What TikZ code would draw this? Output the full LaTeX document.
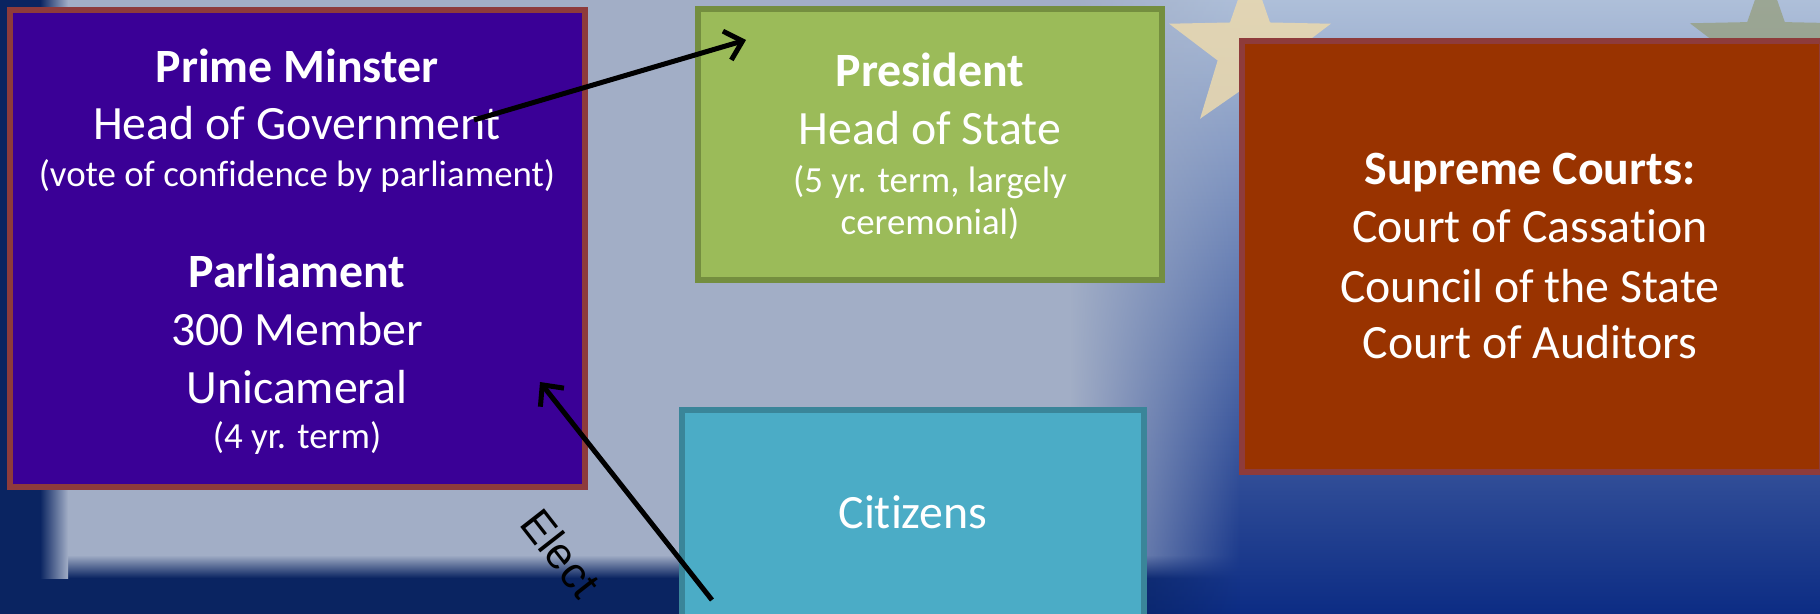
\documentclass[tikz,border=0pt]{standalone}
\usepackage{fontspec}
\setmainfont[Ligatures=NoCommon]{Carlito}
\newfontfamily\arialfont{Liberation Sans}
\usetikzlibrary{arrows.meta,shapes.geometric,fadings}
\definecolor{bgmid}{HTML}{A2AEC6}
\definecolor{bgnavy}{HTML}{0A2461}
\definecolor{rtop}{HTML}{AEBFD9}
\definecolor{rmid}{HTML}{6A88C6}
\definecolor{rbot}{HTML}{0C2C84}
\definecolor{parlfill}{HTML}{3A0096}
\definecolor{parlline}{HTML}{8E3B3B}
\definecolor{presfill}{HTML}{9BBB59}
\definecolor{presline}{HTML}{748E3F}
\definecolor{supfill}{HTML}{993300}
\definecolor{supline}{HTML}{8E3B3B}
\definecolor{citfill}{HTML}{4BACC6}
\definecolor{citline}{HTML}{3A8599}
\definecolor{starcol}{HTML}{EBD9AE}
\definecolor{star2col}{HTML}{97A083}
\tikzfading[name=fromleft, left color=transparent!100, right color=transparent!0]
\tikzset{
  box/.style={rectangle, line width=6bp, inner sep=0pt},
  big/.style={text=white, anchor=base, inner sep=0pt, font=\fontsize{48}{56}\selectfont},
  bigb/.style={big, font=\fontsize{48}{56}\selectfont\bfseries},
  small/.style={text=white, anchor=base, inner sep=0pt, font=\fontsize{37}{42}\selectfont},
  conn/.style={line width=5bp, draw=black, -{Straight Barb[length=16bp,width=30bp,line width=5bp]}},
  starshape/.style={star, star points=5, star point ratio=2.5, inner sep=0pt},
}
\begin{document}
\begin{tikzpicture}[x=1bp,y=-1bp]
\useasboundingbox (0,0) rectangle (1820,614);
\clip (0,0) rectangle (1820,614);
% background
\fill[bgmid] (0,0) rectangle (1820,614);
\shade[top color=bgmid, bottom color=bgnavy] (0,555) rectangle (1240,578);
\fill[bgnavy] (0,578) rectangle (1240,614);
\shade[top color=rtop, middle color=rmid, bottom color=rbot, path fading=fromleft] (1070,0) rectangle (1240,614);
\shade[top color=rtop, middle color=rmid, bottom color=rbot] (1240,0) rectangle (1820,614);
\fill[bgnavy] (0,0) rectangle (40,614);
\shade[left color=bgnavy, right color=bgmid] (40,0) rectangle (68,578);
\node[starshape, minimum size=170bp, fill=starcol, opacity=0.85] (star1) at (1250,50) {};
\node[starshape, minimum size=160bp, fill=star2col, opacity=0.8] (star2) at (1766,48) {};
% boxes
\node[box, fill=parlfill, draw=parlline, minimum width=575bp, minimum height=477bp] (parl) at (297.5,248.5) {};
\node[box, fill=presfill, draw=presline, minimum width=464bp, minimum height=271bp] (pres) at (930,144.5) {};
\node[box, fill=supfill, draw=supline, minimum width=580bp, minimum height=431bp] (sup) at (1532,256.5) {};
\node[box, fill=citfill, draw=citline, minimum width=462bp, minimum height=220bp] (cit) at (913,520) {};
% parliament texts
\node[bigb] (pm) at (297,83) {Prime Minster};
\node[big] (hog) at (297,140) {Head of Government};
\node[small] (voc) at (297,187) {(vote of confidence by parliament)};
\node[bigb] (parlt) at (297,287) {Parliament};
\node[big] (mem) at (297,345) {300 Member};
\node[big] (uni) at (297,403) {Unicameral};
\node[small] (term4) at (297,448) {(4 yr. term)};
% president texts
\node[bigb] (prest) at (930,87) {President};
\node[big] (hos) at (930,145) {Head of State};
\node[small] (term5) at (930,193) {(5 yr. term, largely};
\node[small] (cer) at (930,235) {ceremonial)};
% supreme texts
\node[bigb] (supt) at (1530,185) {Supreme Courts:};
\node[big] (cass) at (1530,243) {Court of Cassation};
\node[big] (coun) at (1530,302) {Council of the State};
\node[big] (aud) at (1530,358) {Court of Auditors};
% citizens
\node[big] (citt) at (913,528) {Citizens};
% connectors
\coordinate (a1s) at (474,120);
\coordinate (a1e) at (746,40);
\coordinate (a2s) at (712,600);
\coordinate (a2e) at (540,382);
\draw[conn] (a1s) -- (a1e);
\draw[conn] (a2s) -- (a2e);
\node[rotate=-52, font=\arialfont\fontsize{44}{50}\selectfont, inner sep=0pt] (elect) at (561,553) {Elect};
\end{tikzpicture}
\end{document}
